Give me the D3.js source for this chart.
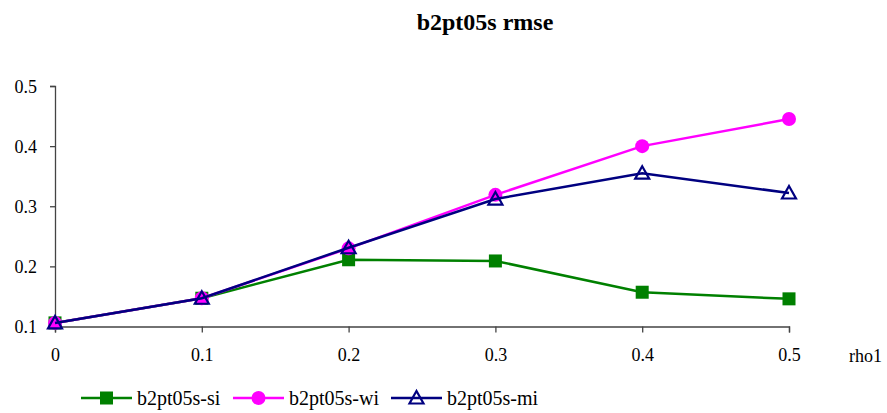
<!DOCTYPE html>
<html lang="en">
  <head>
    <meta charset="utf-8" />
    <title>b2pt05s rmse</title>
    <script type="text/javascript" src="https://d3js.org/d3.v7.min.js"></script>
    <style>
      body { margin: 0; background: #fff; }
      text { font-family: "Liberation Serif", "Times New Roman", serif; fill: #000; }
    </style>
  </head>
  <body>
    <div id="graph"></div>

    <script type="text/javascript">
      /***************
       * data
       ***************/

      const rho1 = [0, 0.1, 0.2, 0.3, 0.4, 0.5];
      const siValues = [0.106, 0.147, 0.211, 0.209, 0.157, 0.146];
      const wiValues = [0.106, 0.147, 0.230, 0.319, 0.400, 0.445];
      const miValues = [0.106, 0.147, 0.231, 0.312, 0.355, 0.322];
      const seriesNames = ["b2pt05s-si", "b2pt05s-wi", "b2pt05s-mi"];
      const yTicks = [0.1, 0.2, 0.3, 0.4, 0.5];

      /***************
       * svg
       ***************/

      const width = 887;
      const height = 413;

      const svg = d3
        .select("div#graph")
        .append("svg")
        .attr("width", width)
        .attr("height", height);

      // scales
      const x = d3.scaleLinear().domain([0, 0.5]).range([55, 789]);
      const y = d3.scaleLinear().domain([0.1, 0.5]).range([326.5, 86]);

      // title
      svg.append("text")
        .attr("x", 485)
        .attr("y", 30)
        .attr("text-anchor", "middle")
        .style("font-size", "24px")
        .style("font-weight", "bold")
        .text("b2pt05s rmse");

      /***************
       * axes
       ***************/

      const xAxis = svg.append("g")
        .attr("transform", "translate(0," + y(0.1) + ")")
        .call(d3.axisBottom(x).tickValues(rho1).tickFormat(d3.format("")).tickSize(6).tickPadding(16));

      const yAxis = svg.append("g")
        .attr("transform", "translate(" + x(0) + ",0)")
        .call(d3.axisLeft(y).tickValues(yTicks).tickFormat(d3.format(".1f")).tickSize(5).tickPadding(13));

      [xAxis, yAxis].forEach(function (g) {
        g.select(".domain").attr("stroke", "#444").attr("stroke-width", 1.3);
        g.selectAll(".tick line").attr("stroke", "#444").attr("stroke-width", 1.3);
        g.selectAll(".tick text")
          .style("font-size", "18px")
          .style("font-family", "'Liberation Serif', serif")
          .attr("fill", "#000");
      });
      yAxis.selectAll(".tick text").attr("dy", "0.35em");

      svg.append("text")
        .attr("x", 849)
        .attr("y", 362)
        .style("font-size", "18px")
        .text("rho1");

      /***************
       * lines + markers
       ***************/

      const line = d3.line()
        .x(function (d) { return x(d[0]); })
        .y(function (d) { return y(d[1]); });

      const series = [
        { name: seriesNames[0], values: siValues, color: "#008000", marker: "square" },
        { name: seriesNames[1], values: wiValues, color: "#ff00ff", marker: "circle" },
        { name: seriesNames[2], values: miValues, color: "#000080", marker: "triangle" }
      ];

      function drawMarker(g, type, color) {
        if (type === "square") {
          g.append("rect")
            .attr("x", -6.5).attr("y", -6.5)
            .attr("width", 13).attr("height", 13)
            .attr("fill", color);
        } else if (type === "circle") {
          g.append("circle")
            .attr("r", 7)
            .attr("fill", color);
        } else {
          g.append("path")
            .attr("d", "M0,-7L7,5.5L-7,5.5Z")
            .attr("fill", "none")
            .attr("stroke", color)
            .attr("stroke-width", 2.2);
        }
      }

      series.forEach(function (s) {
        const pts = rho1.map(function (r, i) { return [r, s.values[i]]; });
        svg.append("path")
          .datum(pts)
          .attr("fill", "none")
          .attr("stroke", s.color)
          .attr("stroke-width", 2.5)
          .attr("d", line);

        svg.selectAll("g.m-" + s.marker)
          .data(pts)
          .enter()
          .append("g")
          .attr("class", "m-" + s.marker)
          .attr("transform", function (d) {
            return "translate(" + x(d[0]) + "," + y(d[1]) + ")";
          })
          .each(function () { drawMarker(d3.select(this), s.marker, s.color); });
      });

      /***************
       * legend
       ***************/

      const legendX = [81, 233, 391];
      const legend = svg.selectAll("g.legend")
        .data(series)
        .enter()
        .append("g")
        .attr("class", "legend")
        .attr("transform", function (d, i) {
          return "translate(" + legendX[i] + ",398)";
        });

      legend.append("line")
        .attr("x1", 0).attr("x2", 51)
        .attr("stroke", function (d) { return d.color; })
        .attr("stroke-width", 2.5);

      legend.append("g")
        .attr("transform", "translate(25.5,0)")
        .each(function (d) { drawMarker(d3.select(this), d.marker, d.color); });

      legend.append("text")
        .attr("x", 56)
        .attr("y", 6.5)
        .style("font-size", "20px")
        .text(function (d) { return d.name; });
    </script>
  </body>
</html>
